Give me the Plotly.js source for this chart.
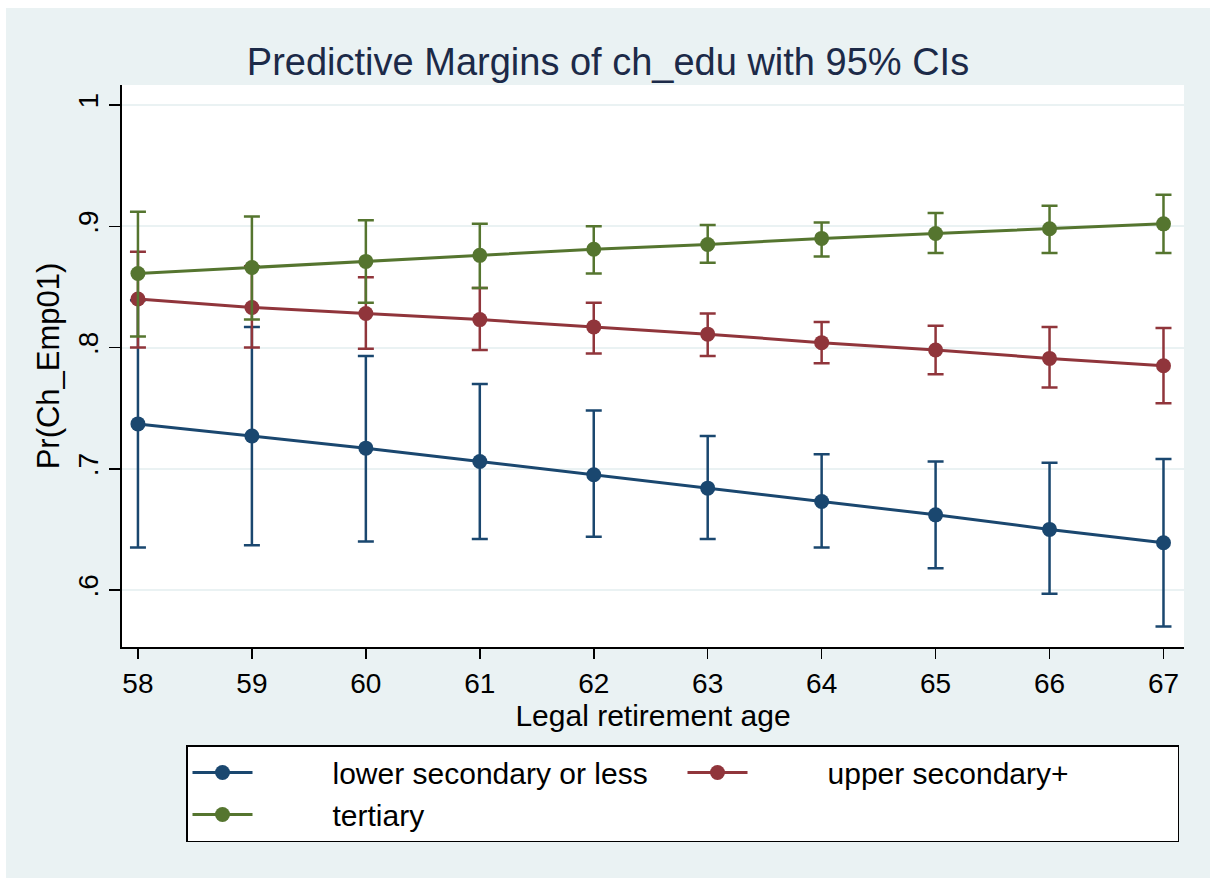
<!DOCTYPE html>
<html>
<head>
<meta charset="utf-8">
<script src="https://cdn.plot.ly/plotly-3.0.1.min.js"></script>
<style>
  html, body { margin: 0; padding: 0; background: #ffffff; }
  #chart { position: absolute; left: 6px; top: 8px; width: 1204px; height: 870px; }
</style>
</head>
<body>
<div id="chart"></div>
<script>
// Legal retirement age
const ages = [58, 59, 60, 61, 62, 63, 64, 65, 66, 67];

// lower secondary or less
const lowerMargin = [0.737, 0.727, 0.717, 0.706, 0.695, 0.684, 0.673, 0.662, 0.650, 0.639];
const lowerUpper  = [0.839, 0.817, 0.793, 0.770, 0.748, 0.727, 0.712, 0.706, 0.705, 0.708];
const lowerLower  = [0.635, 0.637, 0.640, 0.642, 0.644, 0.642, 0.635, 0.618, 0.597, 0.570];

// upper secondary+
const upperMargin = [0.840, 0.833, 0.828, 0.823, 0.817, 0.811, 0.804, 0.798, 0.791, 0.785];
const upperUpper  = [0.879, 0.867, 0.858, 0.849, 0.837, 0.828, 0.821, 0.818, 0.817, 0.816];
const upperLower  = [0.800, 0.800, 0.799, 0.798, 0.795, 0.793, 0.787, 0.778, 0.767, 0.754];

// tertiary
const tertMargin = [0.861, 0.866, 0.871, 0.876, 0.881, 0.885, 0.890, 0.894, 0.898, 0.902];
const tertUpper  = [0.912, 0.908, 0.905, 0.902, 0.900, 0.901, 0.903, 0.911, 0.917, 0.926];
const tertLower  = [0.809, 0.823, 0.837, 0.849, 0.861, 0.870, 0.875, 0.878, 0.878, 0.878];

const seriesNames = ["lower secondary or less", "upper secondary+", "tertiary"];
const yTickVals = [0.6, 0.7, 0.8, 0.9, 1.0];
const yTickText = [".6", ".7", ".8", ".9", "1"];

const colors = ["#1a476f", "#90353b", "#55752f"];
const sans = "'Liberation Sans', Arial, sans-serif";
const legendPad = "\u00a0".repeat(9);

function mk(name, mean, up, lo, color) {
  return {
    x: ages, y: mean, name: legendPad + name, type: "scatter", mode: "lines+markers",
    line: { color: color, width: 3 },
    marker: { color: color, size: 15, symbol: "circle" },
    error_y: {
      type: "data", symmetric: false,
      array: up.map((u, i) => u - mean[i]),
      arrayminus: lo.map((l, i) => mean[i] - l),
      color: color, thickness: 2.5, width: 8
    }
  };
}

const data = [
  mk(seriesNames[0], lowerMargin, lowerUpper, lowerLower, colors[0]),
  mk(seriesNames[1], upperMargin, upperUpper, upperLower, colors[1]),
  mk(seriesNames[2], tertMargin, tertUpper, tertLower, colors[2])
];

const layout = {
  width: 1204, height: 870,
  paper_bgcolor: "#eaf2f3", plot_bgcolor: "#ffffff",
  margin: { l: 116, r: 26, t: 77, b: 231 },
  font: { family: sans, color: "#000000", size: 28 },
  title: {
    text: "Predictive Margins of ch_edu with 95% CIs",
    font: { family: sans, size: 38, color: "#1c2a48" },
    x: 0.5, xref: "container", xanchor: "center",
    y: 1 - 54 / 870, yref: "container", yanchor: "middle"
  },
  xaxis: {
    range: [57.86, 67.18],
    tickvals: ages, ticktext: ages.map(String),
    ticks: "outside", ticklen: 10, tickwidth: 1.5, tickcolor: "#000",
    showline: true, linecolor: "#000", linewidth: 2,
    showgrid: false, zeroline: false,
    tickfont: { family: sans, size: 28, color: "#000" },
    title: { text: "Legal retirement age", font: { family: sans, size: 30, color: "#000" }, standoff: 0 }
  },
  yaxis: {
    range: [0.553, 1.0165],
    tickvals: yTickVals, ticktext: yTickText, tickangle: -90,
    ticks: "outside", ticklen: 11, tickwidth: 1.5, tickcolor: "#000",
    showline: true, linecolor: "#000", linewidth: 2,
    showgrid: true, gridcolor: "#eaf2f3", gridwidth: 2, zeroline: false,
    tickfont: { family: sans, size: 28, color: "#000" },
    title: { text: "Pr(Ch_Emp01)", font: { family: sans, size: 31, color: "#000" }, standoff: 4 }
  },
  showlegend: true,
  legend: {
    orientation: "h", xref: "container", yref: "container",
    x: (186 - 6) / 1204, y: 1 - (745 - 8) / 870, xanchor: "left", yanchor: "top",
    bgcolor: "#ffffff", bordercolor: "#000000", borderwidth: 1.5,
    font: { family: sans, size: 30, color: "#000" },
    entrywidth: 420, entrywidthmode: "pixels",
    itemwidth: 60, tracegroupgap: 0
  }
};

Plotly.newPlot("chart", data, layout, { displayModeBar: false, staticPlot: true });
</script>
</body>
</html>
